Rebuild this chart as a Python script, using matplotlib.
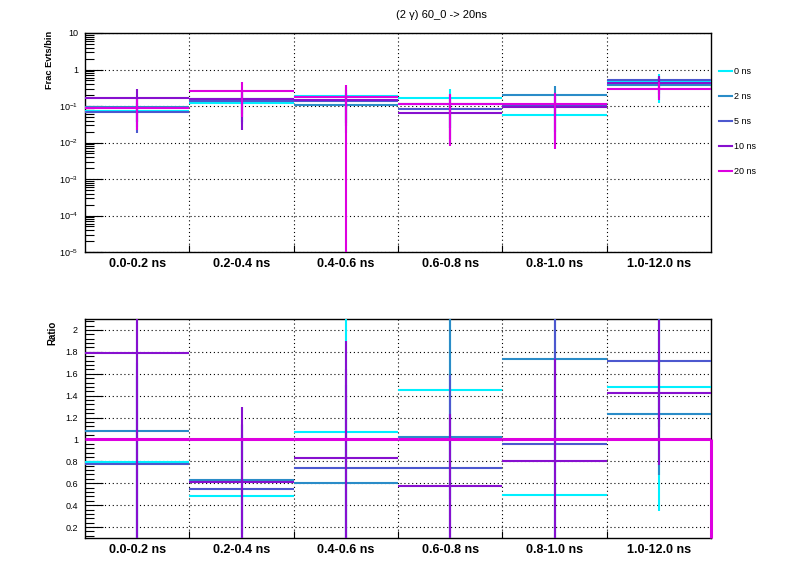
import matplotlib
matplotlib.use('Agg')
import matplotlib.pyplot as plt
import numpy as np
from matplotlib.lines import Line2D
from matplotlib.ticker import (FixedLocator, FixedFormatter, MultipleLocator,
                               LogLocator, NullFormatter, FormatStrFormatter)

plt.rcParams['font.family'] = ['Liberation Sans', 'DejaVu Sans']
plt.rcParams['mathtext.fontset'] = 'custom'
plt.rcParams['mathtext.rm'] = 'Liberation Sans'
plt.rcParams['mathtext.it'] = 'Liberation Sans:italic'
plt.rcParams['mathtext.bf'] = 'Liberation Sans:bold'

# ---------------- data ----------------
title = '(2 \u03b3) 60_0 -> 20ns'
bin_labels = ['0.0-0.2 ns', '0.2-0.4 ns', '0.4-0.6 ns',
              '0.6-0.8 ns', '0.8-1.0 ns', '1.0-12.0 ns']
series_labels = ['0 ns', '2 ns', '5 ns', '10 ns', '20 ns']
series_colors = ['#00f0ff', '#2a8cc8', '#4c58cf', '#8710cf', '#dd00e0']

# fraction of events per bin
frac_0ns = [0.0717, 0.1220, 0.1915, 0.1626, 0.0560, 0.4437]
frac_2ns = [0.0966, 0.1585, 0.1080, 0.1142, 0.1977, 0.3702]
frac_5ns = [0.0700, 0.1358, 0.1337, 0.0824, 0.1096, 0.5145]
frac_10ns = [0.1611, 0.1523, 0.1489, 0.0642, 0.0919, 0.4281]
frac_20ns = [0.0900, 0.2500, 0.1800, 0.1120, 0.1140, 0.3000]

# errors on fractions
err_0ns = [0.045, 0.090, 0.150, 0.137, 0.045, 0.320]
err_2ns = [0.060, 0.100, 0.090, 0.090, 0.145, 0.200]
err_5ns = [0.052, 0.100, 0.100, 0.070, 0.090, 0.120]
err_10ns = [0.125, 0.130, 0.120, 0.055, 0.080, 0.216]
err_20ns = [0.068, 0.200, 0.185, 0.104, 0.1075, 0.150]

# errors on ratios (series / 20 ns)
rerr_0ns = [0.90, 0.55, 1.10, 1.00, 0.60, 1.134]
rerr_2ns = [1.00, 0.50, 0.90, 1.20, 0.90, 0.560]
rerr_5ns = [0.80, 0.60, 0.90, 0.852, 1.20, 0.600]
rerr_10ns = [1.75, 0.69, 1.07, 0.661, 0.93, 0.660]

fracs = [frac_0ns, frac_2ns, frac_5ns, frac_10ns, frac_20ns]
errs = [err_0ns, err_2ns, err_5ns, err_10ns, err_20ns]
rerrs = [rerr_0ns, rerr_2ns, rerr_5ns, rerr_10ns]

nb = len(bin_labels)
edges = np.arange(nb + 1)
centers = edges[:-1] + 0.5
ref = np.array(frac_20ns)

# ---------------- figure ----------------
W, H = 796, 572
fig = plt.figure(figsize=(W / 100, H / 100), dpi=100)
axL, axR = 85 / W, 711 / W
ax1 = fig.add_axes([axL, 1 - 252 / H, axR - axL, (252 - 33) / H])
ax2 = fig.add_axes([axL, 1 - 538 / H, axR - axL, (538 - 319) / H])

LW = 1.5
TOP_YLIM = (1e-5, 10)
RAT_YLIM = (0.1, 2.1)

# top panel
for f, e, c in zip(fracs, errs, series_colors):
    f = np.array(f); e = np.array(e)
    ax1.hlines(f, edges[:-1], edges[1:], colors=c, lw=LW, zorder=3)
    lo = np.maximum(f - e, TOP_YLIM[0] * 1e-3)
    ax1.vlines(centers, lo, f + e, colors=c, lw=LW, zorder=3)

ax1.set_yscale('log')
ax1.set_ylim(*TOP_YLIM)
ax1.set_xlim(edges[0], edges[-1])
dec = [1e-5, 1e-4, 1e-3, 1e-2, 1e-1, 1, 10]
dec_lbl = ['$10^{-5}$', '$10^{-4}$', '$10^{-3}$', '$10^{-2}$', '$10^{-1}$', '1', '10']
ax1.yaxis.set_major_locator(FixedLocator(dec))
ax1.yaxis.set_major_formatter(FixedFormatter(dec_lbl))
ax1.yaxis.set_minor_locator(LogLocator(base=10, subs=np.arange(2, 10), numticks=20))
ax1.yaxis.set_minor_formatter(NullFormatter())

# ratio panel
for f, re_, c in zip(fracs[:-1], rerrs, series_colors[:-1]):
    r = np.array(f) / ref
    re_ = np.array(re_)
    ax2.hlines(r, edges[:-1], edges[1:], colors=c, lw=LW, zorder=3)
    ax2.vlines(centers, r - re_, r + re_, colors=c, lw=LW, zorder=3)
r20 = np.array(frac_20ns) / ref
ax2.hlines(r20, edges[:-1], edges[1:], colors=series_colors[-1], lw=2.2, zorder=4)
ax2.vlines(edges[-1], RAT_YLIM[0], r20[-1], colors=series_colors[-1], lw=2.2,
           zorder=4, clip_on=False)
ax2.set_ylim(*RAT_YLIM)
ax2.set_xlim(edges[0], edges[-1])
ax2.yaxis.set_major_locator(MultipleLocator(0.2))
ax2.yaxis.set_minor_locator(MultipleLocator(0.04))
ax2.yaxis.set_major_formatter(FormatStrFormatter('%g'))

for ax in (ax1, ax2):
    ax.xaxis.set_major_locator(FixedLocator(centers))
    ax.xaxis.set_major_formatter(FixedFormatter(bin_labels))
    ax.xaxis.set_minor_locator(FixedLocator(edges[1:-1]))
    ax.tick_params(axis='x', which='major', length=0, pad=4, labelsize=9)
    ax.tick_params(axis='x', which='minor', length=5, direction='in', width=0.8,
                   top=False)
    for t in ax.get_xticklabels():
        t.set_fontweight('bold')
    ax.tick_params(axis='y', which='major', length=13, direction='in', width=0.8,
                   labelsize=6.5, pad=5, right=False)
    ax.tick_params(axis='y', which='minor', length=6.5, direction='in', width=0.8,
                   right=False)
    ax.grid(True, axis='y', which='major', color='black', lw=0.8, ls=(0, (1, 2.5)))
    ax.grid(True, axis='x', which='minor', color='black', lw=0.8, ls=(0, (1, 2.5)))
    ax.set_axisbelow(True)
    for s in ax.spines.values():
        s.set_linewidth(1.0)
        s.set_color('black')

fig.text(441 / W, 1 - 15 / H, title, ha='center', va='center', fontsize=8)
fig.text(50 / W, 1 - 31 / H, 'Frac Evts/bin', rotation=90, ha='center', va='top',
         fontsize=6.7, fontweight='bold')
fig.text(52 / W, 1 - 321 / H, 'Ratio', rotation=90, ha='center', va='top',
         fontsize=7, fontweight='bold')

handles = [Line2D([], [], color=c, lw=LW) for c in series_colors]
fig.legend(handles, series_labels, loc='upper left',
           bbox_to_anchor=(719 / W, 1 - 67 / H), frameon=False, fontsize=6.5,
           handlelength=1.45, handletextpad=0.25, labelspacing=1.78,
           borderpad=0, borderaxespad=0)

fig.savefig('out.png', dpi=100, facecolor='white')
